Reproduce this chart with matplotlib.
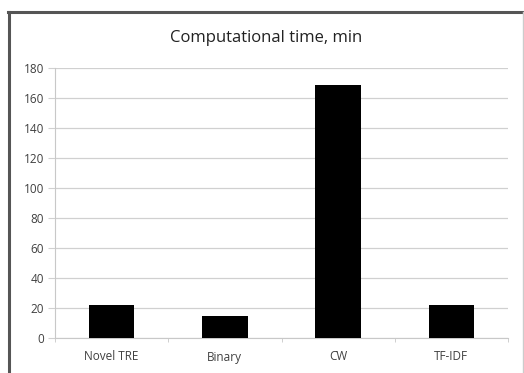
import matplotlib.pyplot as plt
from matplotlib.lines import Line2D

categories = ["Novel TRE", "Binary", "CW", "TF-IDF"]
minutes = [22, 15, 169, 22]
y_ticks = [0, 20, 40, 60, 80, 100, 120, 140, 160, 180]

W, H = 524, 373
fig = plt.figure(figsize=(W / 100, H / 100), dpi=100)
fig.patch.set_facecolor("white")

# outer chart frame (Excel style): dark top/left, faint right edge
fig.add_artist(Line2D([9 / W, 9 / W], [0, 1 - 11.5 / H], transform=fig.transFigure,
                      color="#555555", linewidth=2.2))
fig.add_artist(Line2D([8 / W, 1], [1 - 11.5 / H, 1 - 11.5 / H], transform=fig.transFigure,
                      color="#555555", linewidth=2.2))
fig.add_artist(Line2D([523 / W, 523 / W], [0, 1 - 12 / H], transform=fig.transFigure,
                      color="#cccccc", linewidth=1.0))

ax = fig.add_axes([55 / W, (H - 338) / H, 453 / W, 270 / H])
x = range(len(categories))
ax.bar(x, minutes, width=0.4, color="black", zorder=3)
ax.set_xlim(-0.5, len(categories) - 0.5)
ax.set_ylim(0, 180)
ax.set_yticks(y_ticks)
ax.set_yticklabels([str(v) for v in y_ticks], fontsize=8.5, color="#404040",
                   family="Open Sans")
ax.set_xticks(list(x))
ax.set_xticklabels(categories, fontsize=8.5, color="#404040", family="Open Sans")
ax.tick_params(axis="x", length=0, pad=9)
ax.tick_params(axis="y", length=5, color="#d0d0d0", pad=3)
# minor ticks at category boundaries
ax.set_xticks([i - 0.5 for i in range(len(categories) + 1)], minor=True)
ax.tick_params(axis="x", which="minor", length=3, color="#c8c8c8")

ax.grid(axis="y", color="#d0d0d0", linewidth=0.9, zorder=0)
for side in ["top", "right"]:
    ax.spines[side].set_visible(False)
ax.spines["left"].set_color("#c8c8c8")
ax.spines["bottom"].set_color("#c8c8c8")

fig.text(266 / W, 1 - 38 / H, "Computational time, min", ha="center",
         va="center", fontsize=12, color="#222222", family="Open Sans")

fig.savefig("out.png", dpi=100)
